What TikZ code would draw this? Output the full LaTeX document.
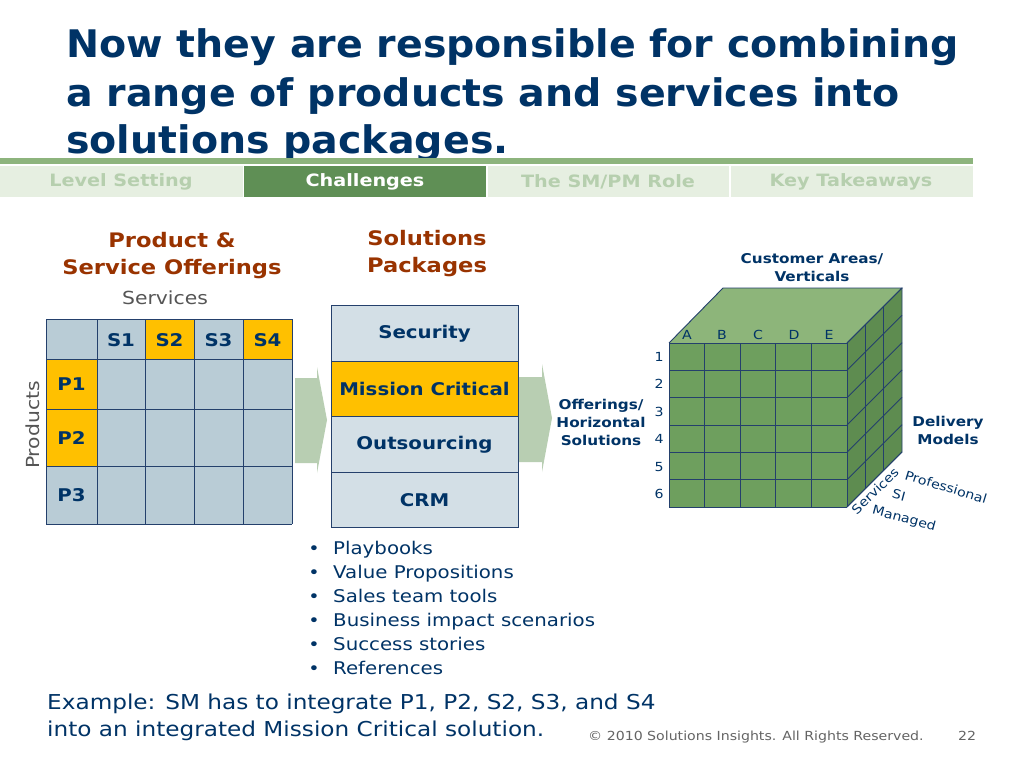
\documentclass[tikz,border=0pt]{standalone}
\usepackage{fontspec}
\setmainfont{DejaVu Sans}[FakeStretch=1.13]
\newfontfamily\titlefont{DejaVu Sans}[FakeStretch=1.04]
\newcommand{\fsz}[2]{\fontsize{#1}{#2}\selectfont}
\definecolor{navy}{RGB}{0,51,102}
\definecolor{rust}{RGB}{153,51,0}
\definecolor{gold}{RGB}{255,192,0}
\definecolor{cellc}{RGB}{185,204,214}
\definecolor{solc}{RGB}{211,223,230}
\definecolor{gridc}{RGB}{36,64,108}
\definecolor{lgreen}{RGB}{141,180,125}
\definecolor{tabbg}{RGB}{230,239,225}
\definecolor{tabtx}{RGB}{182,207,174}
\definecolor{tabact}{RGB}{95,143,85}
\definecolor{chev}{RGB}{184,206,178}
\definecolor{cubefront}{RGB}{110,159,94}
\definecolor{cubetop}{RGB}{141,181,122}
\definecolor{cuberight}{RGB}{94,140,80}
\definecolor{grayt}{RGB}{85,85,85}
\definecolor{copyt}{RGB}{100,100,100}
\tikzset{
  titletext/.style={font=\titlefont\bfseries\fsz{38}{47}, text=navy, inner sep=0pt},
  tabtext/.style={font=\bfseries\fsz{17}{20}, inner sep=0pt},
  headtext/.style={font=\bfseries\fsz{20}{27}, text=rust, align=center, inner sep=0pt},
  graytext/.style={font=\fsz{18}{22}, text=grayt, inner sep=0pt},
  celltext/.style={font=\bfseries\fsz{17.5}{20}, text=navy, inner sep=0pt},
  gridline/.style={draw=gridc, line width=0.9pt},
  cubeline/.style={draw=gridc, line width=0.9pt},
  cubelabel/.style={font=\bfseries\fsz{13.5}{18}, text=navy, align=center, inner sep=0pt},
  cubesmall/.style={font=\fsz{12.5}{15}, text=navy, inner sep=0pt},
  bullettext/.style={font=\fsz{17.5}{20}, text=navy, inner sep=0pt, anchor=base west},
  bulletdot/.style={font=\fsz{17}{20}, text=navy, inner sep=0pt, anchor=base},
  bodytext/.style={font=\fsz{20.5}{24}, text=navy, inner sep=0pt, anchor=base west},
  copytext/.style={font=\fsz{12.5}{15}, text=copyt, inner sep=0pt, anchor=base west},
}
\begin{document}
\begin{tikzpicture}[x=1pt,y=-1pt]
\useasboundingbox[fill=white] (0,0) rectangle (1024,768);

% ---- title ----
\node[titletext, anchor=base west] (t1) at (66,58) {Now they are responsible for combining};
\node[titletext, anchor=base west] (t2) at (66,106) {a range of products and services into};
\node[titletext, anchor=base west] (t3) at (66,153) {solutions packages.};

% ---- green rule and tabs ----
\fill[lgreen] (0,158) rectangle (973,164);
\fill[tabbg] (0,166) rectangle (243,197);
\fill[tabact] (244,166) rectangle (486,197);
\fill[tabbg] (488,166) rectangle (729,197);
\fill[tabbg] (731,166) rectangle (973,197);
\node[tabtext, text=tabtx] (tab1) at (121,182) {Level Setting};
\node[tabtext, text=white] (tab2) at (365,182) {Challenges};
\node[tabtext, text=tabtx] (tab3) at (608,182) {The SM/PM Role};
\node[tabtext, text=tabtx] (tab4) at (851,182) {Key Takeaways};

% ---- headings ----
\node[headtext] (h1) at (172,256) {Product \&\\Service Offerings};
\node[headtext] (h2) at (427,254) {Solutions\\Packages};
\node[graytext] (serv) at (165,298) {Services};
\node[graytext, rotate=90] (prod) at (33,425) {Products};

% ---- offerings table ----
\fill[cellc] (46,319) rectangle (292,524);
\fill[gold] (145,319) rectangle (194,359);
\fill[gold] (243,319) rectangle (292,359);
\fill[gold] (46,359) rectangle (97,466);
\foreach \x in {46,97,145,194,243,292} \draw[gridline] (\x,319) -- (\x,524);
\foreach \y in {319,359,409,466,524} \draw[gridline] (46,\y) -- (292,\y);
\node[celltext] (s1) at (121,340) {S1};
\node[celltext] (s2) at (169.5,340) {S2};
\node[celltext] (s3) at (218.5,340) {S3};
\node[celltext] (s4) at (267.5,340) {S4};
\node[celltext] (p1) at (71.5,384) {P1};
\node[celltext] (p2) at (71.5,437.5) {P2};
\node[celltext] (p3) at (71.5,495) {P3};

% ---- chevrons ----
\fill[chev] (295,378) -- (317,378) -- (317,367) -- (327,420) -- (317,473) -- (317,463) -- (295,463) -- cycle;
\fill[chev] (519,377) -- (542,377) -- (542,364) -- (552,418) -- (542,472) -- (542,462) -- (519,462) -- cycle;

% ---- solutions packages ----
\fill[solc] (331,305) rectangle (518,527);
\fill[gold] (331,361) rectangle (518,416);
\foreach \y in {361,416,472} \draw[gridline] (331,\y) -- (518,\y);
\draw[gridline] (331,305) rectangle (518,527);
\node[celltext] (sec) at (424.5,334) {Security};
\node[celltext] (mis) at (424.5,389) {Mission Critical};
\node[celltext] (out) at (424.5,445) {Outsourcing};
\node[celltext] (crm) at (424.5,500) {CRM};

% ---- cube ----
\fill[cubetop] (669,343) -- (723,288) -- (902,288) -- (847,343) -- cycle;
\fill[cuberight] (847,343) -- (902,288) -- (902,452) -- (847,507) -- cycle;
\fill[cubefront] (669,343) rectangle (847,507);
\draw[cubeline] (669,343) -- (723,288) -- (902,288) -- (847,343);
\draw[cubeline] (902,288) -- (902,452) -- (847,507);
\foreach \x in {669,704.6,740.2,775.8,811.4,847} \draw[cubeline] (\x,343) -- (\x,507);
\foreach \i in {0,...,6} {
  \draw[cubeline] (669,343+27.333*\i) -- (847,343+27.333*\i);
  \draw[cubeline] (847,343+27.333*\i) -- (902,288+27.333*\i);
}
\draw[cubeline] (865.3,324.7) -- (865.3,488.7);
\draw[cubeline] (883.7,306.3) -- (883.7,470.3);
\foreach \l/\x in {A/687,B/722,C/758,D/794,E/829}
  \node[cubesmall] (col\l) at (\x,335) {\l};
\foreach \n/\y in {1/357,2/384,3/412,4/439,5/467,6/494}
  \node[cubesmall] (row\n) at (659,\y) {\n};
\node[cubelabel] (cust) at (812,268) {Customer Areas/\\Verticals};
\node[cubelabel] (offer) at (601,422) {Offerings/\\Horizontal\\Solutions};
\node[cubelabel] (deliv) at (948,430) {Delivery\\Models};
\node[cubesmall, rotate=44] (servs) at (875,491) {Services};
\node[cubesmall, rotate=-17] (profl) at (946,487) {Professional};
\node[cubesmall, rotate=-15] (si) at (899,495) {SI};
\node[cubesmall, rotate=-15] (mgd) at (904,519) {Managed};

% ---- bullets ----
\foreach \t/\y [count=\k] in {Playbooks/554,Value Propositions/578,Sales team tools/602,Business impact scenarios/626,Success stories/650,References/674} {
  \node[bulletdot] (bd\k) at (314,\y) {•};
  \node[bullettext] (bt\k) at (333,\y) {\t};
}

% ---- example and footer ----
\node[bodytext] (ex1) at (47,709) {Example: SM has to integrate P1, P2, S2, S3, and S4};
\node[bodytext] (ex2) at (47,736) {into an integrated Mission Critical solution.};
\node[copytext] (copy) at (588,740) {© 2010 Solutions Insights. All Rights Reserved.};
\node[copytext] (pg) at (958,740) {22};
\end{tikzpicture}
\end{document}
